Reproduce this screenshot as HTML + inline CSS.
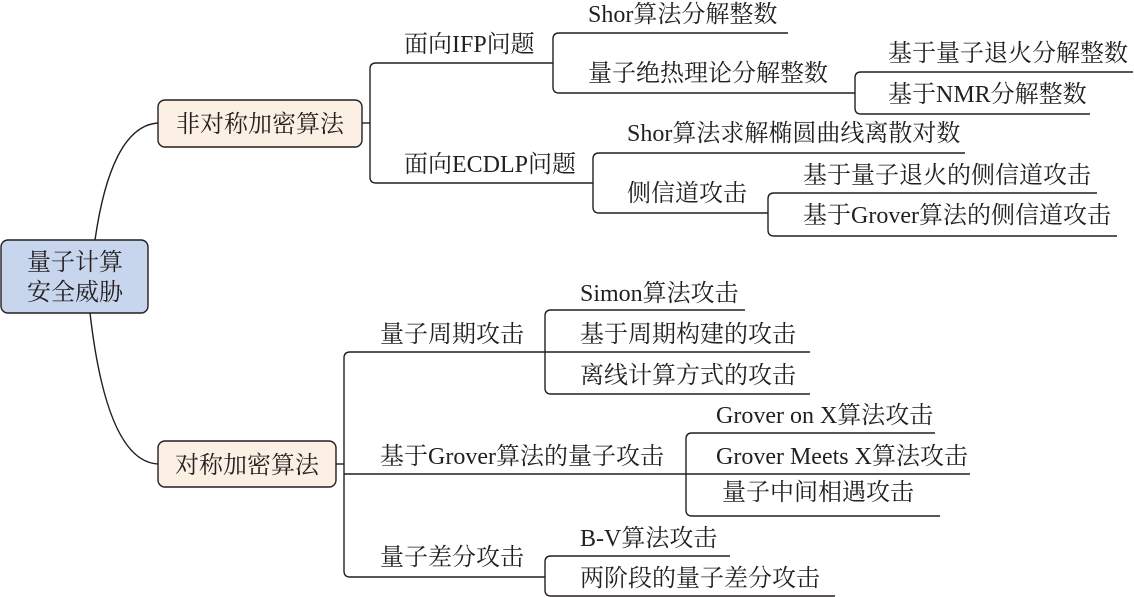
<!DOCTYPE html>
<html><head><meta charset="utf-8"><style>
html,body{margin:0;padding:0;background:#fff;}
svg{display:block;}
text{font-family:"Liberation Serif","Noto Serif CJK SC",serif;font-size:24px;fill:#231f20;}
</style></head><body>
<svg width="1134" height="597" viewBox="0 0 1134 597" xmlns="http://www.w3.org/2000/svg">
<g fill="none" stroke="#231f20" stroke-width="1.4">
<path d="M95 240 C105 170 125 125 158 123"/>
<path d="M90 313 C100 400 120 462 158 464"/>
<path d="M362 123 H370"/>
<path d="M553 63 H376 Q370 63 370 69 V177 Q370 183 376 183 H593"/>
<path d="M788 33 H559 Q553 33 553 39 V87 Q553 93 559 93 H855"/>
<path d="M1133 72 H861 Q855 72 855 78 V108 Q855 114 861 114 H1090"/>
<path d="M965 153 H599 Q593 153 593 159 V207 Q593 213 599 213 H768"/>
<path d="M1097 193 H774 Q768 193 768 199 V230 Q768 236 774 236 H1117"/>
<path d="M336 464 H344"/>
<path d="M545 352 H350 Q344 352 344 358 V571 Q344 577 350 577 H545"/>
<path d="M344 474 H686"/>
<path d="M745 310 H551 Q545 310 545 316 V388 Q545 394 551 394 H810"/>
<path d="M545 352 H810"/>
<path d="M935 433 H692 Q686 433 686 439 V510 Q686 516 692 516 H940"/>
<path d="M686 474 H970"/>
<path d="M730 556 H551 Q545 556 545 562 V590 Q545 596 551 596 H835"/>
</g>
<rect x="1" y="240" width="147" height="73" rx="7" fill="#c8d6ed" stroke="#231f20" stroke-width="1.4"/>
<rect x="158" y="100" width="204" height="47" rx="7" fill="#fcefe3" stroke="#231f20" stroke-width="1.4"/>
<rect x="158" y="441" width="178" height="46" rx="7" fill="#fcefe3" stroke="#231f20" stroke-width="1.4"/>
<text x="75" y="270" text-anchor="middle">量子计算</text>
<text x="75" y="300" text-anchor="middle">安全威胁</text>
<text x="260" y="132" text-anchor="middle">非对称加密算法</text>
<text x="247" y="473" text-anchor="middle">对称加密算法</text>
<text x="404" y="52">面向IFP问题</text>
<text x="404" y="172">面向ECDLP问题</text>
<text x="588" y="22">Shor算法分解整数</text>
<text x="588" y="81">量子绝热理论分解整数</text>
<text x="888" y="61">基于量子退火分解整数</text>
<text x="888" y="102">基于NMR分解整数</text>
<text x="627" y="141">Shor算法求解椭圆曲线离散对数</text>
<text x="627" y="201">侧信道攻击</text>
<text x="803" y="183">基于量子退火的侧信道攻击</text>
<text x="803" y="223">基于Grover算法的侧信道攻击</text>
<text x="380" y="342">量子周期攻击</text>
<text x="380" y="464">基于Grover算法的量子攻击</text>
<text x="380" y="565">量子差分攻击</text>
<text x="580" y="301">Simon算法攻击</text>
<text x="580" y="342">基于周期构建的攻击</text>
<text x="580" y="383">离线计算方式的攻击</text>
<text x="716" y="423">Grover on X算法攻击</text>
<text x="716" y="464">Grover Meets X算法攻击</text>
<text x="722" y="500">量子中间相遇攻击</text>
<text x="580" y="546">B-V算法攻击</text>
<text x="580" y="586">两阶段的量子差分攻击</text>
</svg>
</body></html>
